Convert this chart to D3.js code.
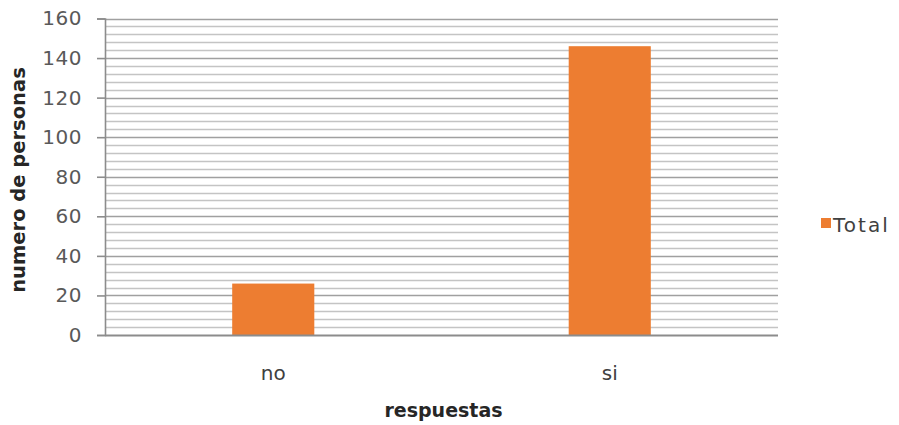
<!DOCTYPE html>
<html>
<head>
<meta charset="utf-8">
<script src="https://cdn.jsdelivr.net/npm/d3@7"></script>
<style>
  html, body { margin: 0; padding: 0; background: #fff; }
  svg { display: block; font-family: "DejaVu Sans", Verdana, sans-serif; }
</style>
</head>
<body>
<svg id="chart" width="899" height="425"></svg>
<script>
// Survey answers and head counts
const categories = ["no", "si"];
const totals = [26, 146];
const yTicks = [0, 20, 40, 60, 80, 100, 120, 140, 160];
const minorStep = 4;
const seriesName = "Total";
const xTitle = "respuestas";
const yTitle = "numero de personas";

const svg = d3.select("#chart");
const plot = { left: 105, right: 778, top: 18.5, bottom: 335 };

const x = d3.scaleBand()
  .domain(categories)
  .range([plot.left, plot.right])
  .paddingInner(0.756)
  .paddingOuter(0.378);

const y = d3.scaleLinear()
  .domain([0, 160])
  .range([plot.bottom, plot.top]);

// minor gridlines
const minor = d3.range(0, 160 + 0.001, minorStep).filter(v => v % 20 !== 0);
svg.append("g").selectAll("line").data(minor).join("line")
  .attr("x1", plot.left).attr("x2", plot.right)
  .attr("y1", d => Math.round(y(d)) + 0.5).attr("y2", d => Math.round(y(d)) + 0.5)
  .attr("stroke", "#c4c4c4").attr("stroke-width", 1.5);

// major gridlines
svg.append("g").selectAll("line").data(yTicks.filter(v => v > 0)).join("line")
  .attr("x1", plot.left).attr("x2", plot.right)
  .attr("y1", d => Math.round(y(d)) + 0.5).attr("y2", d => Math.round(y(d)) + 0.5)
  .attr("stroke", "#a0a0a0").attr("stroke-width", 1.6);

// y axis
const yAxis = svg.append("g")
  .attr("transform", `translate(${plot.left},0)`)
  .call(d3.axisLeft(y).tickValues(yTicks).tickSize(8).tickPadding(15));
yAxis.select(".domain").attr("stroke", "#8c8c8c").attr("stroke-width", 1.6);
yAxis.selectAll(".tick line").attr("stroke", "#8c8c8c").attr("stroke-width", 1.6);
yAxis.selectAll(".tick text")
  .attr("fill", "#595959").attr("font-size", 20)
  .attr("letter-spacing", 0.5)
  .attr("font-family", "\"DejaVu Sans\", Verdana, sans-serif");

// bars
svg.append("g").selectAll("rect").data(categories).join("rect")
  .attr("x", d => x(d))
  .attr("width", x.bandwidth())
  .attr("y", (d, i) => y(totals[i]))
  .attr("height", (d, i) => y(0) - y(totals[i]))
  .attr("fill", "#ED7D31");

// x axis baseline
svg.append("line")
  .attr("x1", plot.left).attr("x2", plot.right)
  .attr("y1", y(0) + 0.5).attr("y2", y(0) + 0.5)
  .attr("stroke", "#8c8c8c").attr("stroke-width", 1.8);

// category labels
svg.append("g").selectAll("text").data(categories).join("text")
  .attr("x", d => x(d) + x.bandwidth() / 2)
  .attr("y", 380)
  .attr("text-anchor", "middle")
  .attr("font-size", 20)
  .attr("fill", "#404040")
  .text(d => d);

// axis titles
svg.append("text")
  .attr("x", (plot.left + plot.right) / 2 + 2)
  .attr("y", 417)
  .attr("text-anchor", "middle")
  .attr("font-size", 19)
  .attr("font-weight", "bold")
  .attr("fill", "#262626")
  .text(xTitle);

svg.append("text")
  .attr("transform", "translate(25,180) rotate(-90)")
  .attr("text-anchor", "middle")
  .attr("font-size", 19.5)
  .attr("font-weight", "bold")
  .attr("fill", "#262626")
  .text(yTitle);

// legend
const legend = svg.append("g").attr("transform", "translate(821,218)");
legend.append("rect").attr("width", 10).attr("height", 10).attr("fill", "#ED7D31");
legend.append("text")
  .attr("x", 12).attr("y", 14)
  .attr("font-size", 20)
  .attr("letter-spacing", 2)
  .attr("fill", "#404040")
  .text(seriesName);
</script>
</body>
</html>
